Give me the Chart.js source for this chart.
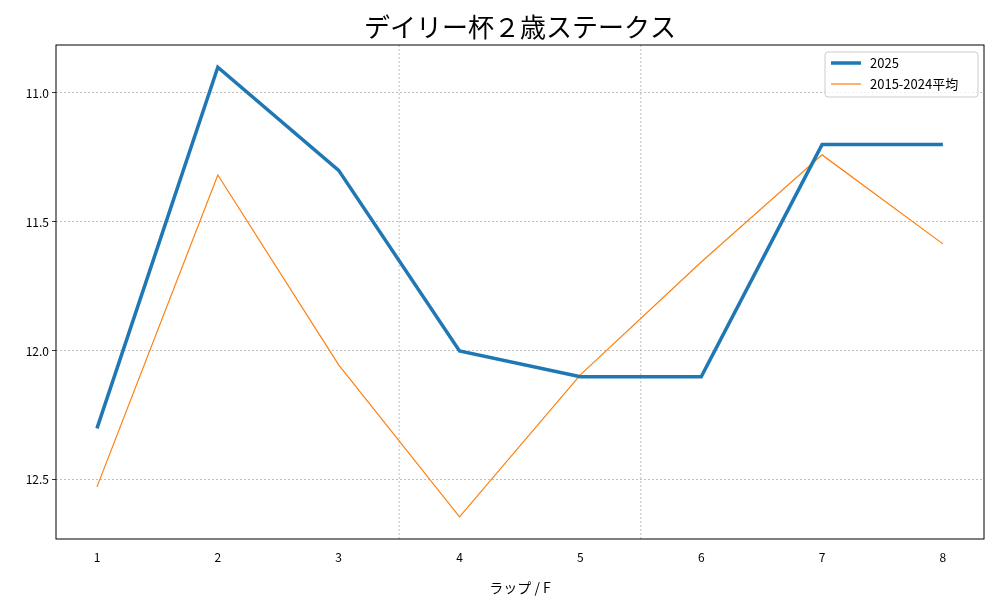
<!DOCTYPE html>
<html><head><meta charset="utf-8">
<script src="https://cdn.jsdelivr.net/npm/chart.js@4"></script>
<style>body{margin:0;background:#fff}#w{width:1000px;height:600px}</style>
</head><body><div id="w"><canvas id="c"></canvas></div>
<script>
const laps=[1,2,3,4,5,6,7,8];
const y2025=[12.3,10.9,11.3,12.0,12.1,12.1,11.2,11.2];
const yAvg=[12.527,11.318,12.054,12.643,12.093,11.655,11.24,11.585];
const yTicks=[11.0,11.5,12.0,12.5];
const sectionMarks=[3.5,5.5];
const FONT='"Noto Sans CJK JP", "DejaVu Sans", sans-serif';
const extras={id:'extras',
 beforeDatasetsDraw(ch){const {ctx,chartArea:a,scales:{x}}=ch;ctx.save();ctx.strokeStyle='#b0b0b0';ctx.lineWidth=0.8;ctx.setLineDash([2,2]);
  sectionMarks.forEach(v=>{const px=x.getPixelForValue(v);ctx.beginPath();ctx.moveTo(px,a.top);ctx.lineTo(px,a.bottom);ctx.stroke();});ctx.restore();},
 afterDraw(ch){const {ctx,chartArea:a}=ch;ctx.save();
  ctx.strokeStyle='#000';ctx.lineWidth=1;ctx.strokeRect(a.left,a.top,a.right-a.left,a.bottom-a.top);
  ctx.fillStyle='#000';ctx.font='26px '+FONT;ctx.textAlign='center';ctx.textBaseline='middle';ctx.fillText('デイリー杯２歳ステークス',(a.left+a.right)/2,27);
  // legend
  const lx=825,ly=52,lw=153,lh=45;ctx.fillStyle='rgba(255,255,255,0.8)';ctx.strokeStyle='#ccc';ctx.lineWidth=1;
  ctx.beginPath();ctx.roundRect(lx,ly,lw,lh,3);ctx.fill();ctx.stroke();
  ctx.font='13px '+FONT;ctx.textAlign='left';
  ctx.strokeStyle='#1f77b4';ctx.lineWidth=3.5;ctx.beginPath();ctx.moveTo(831,63);ctx.lineTo(861,63);ctx.stroke();
  ctx.strokeStyle='#ff7f0e';ctx.lineWidth=1.2;ctx.beginPath();ctx.moveTo(831,84);ctx.lineTo(861,84);ctx.stroke();
  ctx.fillStyle='#000';ctx.fillText('2025',870,63);ctx.fillText('2015-2024平均',870,84);
  ctx.restore();}};
new Chart(document.getElementById('c'),{type:'line',
 data:{datasets:[
  {label:'2025',data:laps.map((l,i)=>({x:l,y:y2025[i]})),borderColor:'#1f77b4',borderWidth:3.5,pointRadius:0,tension:0},
  {label:'2015-2024平均',data:laps.map((l,i)=>({x:l,y:yAvg[i]})),borderColor:'#ff7f0e',borderWidth:1.2,pointRadius:0,tension:0}]},
 options:{responsive:true,maintainAspectRatio:false,animation:false,
  layout:{padding:{top:45,right:16,left:0,bottom:0}},
  plugins:{legend:{display:false},tooltip:{enabled:false}},
  scales:{
   x:{type:'linear',min:0.661,max:8.34,afterBuildTicks:s=>{s.ticks=laps.map(v=>({value:v}))},afterFit:s=>{s.height=61},
    grid:{display:false,drawTicks:true},border:{display:false},
    ticks:{color:'#000',font:{size:12,family:FONT},maxRotation:0},
    title:{display:true,text:'ラップ / F',color:'#000',font:{size:14,family:FONT},padding:{top:2}}},
   y:{reverse:true,min:10.814,max:12.729,afterBuildTicks:s=>{s.ticks=yTicks.map(v=>({value:v}))},afterFit:s=>{s.width=56},
    grid:{color:'#b0b0b0',lineWidth:0.8,tickColor:'#000',tickLength:4},border:{display:false,dash:[2,2]},
    ticks:{color:'#000',font:{size:12,family:FONT},callback:v=>v.toFixed(1)}}}},
 plugins:[extras]});
</script></body></html>
